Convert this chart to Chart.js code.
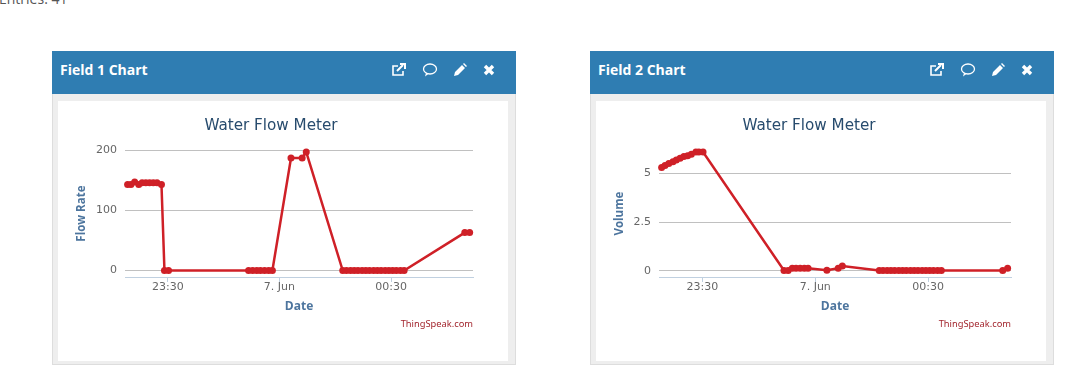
<!DOCTYPE html>
<html>
<head>
<meta charset="utf-8">
<title>Water Flow Meter</title>
<script src="https://cdn.jsdelivr.net/npm/chart.js@4/dist/chart.umd.min.js"></script>
<style>
    html, body { margin: 0; padding: 0; background: #fff; width: 1090px; height: 376px; overflow: hidden; }
    .entries { position: absolute; left: -1px; top: -11px; font: 14px "Open Sans", sans-serif; color: #555; }
    .panel { position: absolute; top: 51px; width: 464px; height: 314px; background: #eee; border: 1px solid #ddd; box-sizing: border-box; }
    #panel-1 { left: 52px; }
    #panel-2 { left: 590px; }
    .panel-header { position: absolute; left: -1px; right: -1px; top: -1px; height: 43px; background: #2f7db2; }
    .panel-title { position: absolute; left: 8px; top: 9px; font: bold 14px "Open Sans", sans-serif; color: #fff; }
    .icon { position: absolute; top: 11px; width: 16px; height: 16px; }
    .panel-body { position: absolute; left: 5px; top: 49px; width: 450px; height: 260px; background: #fff; }
    canvas { position: absolute; left: 0; top: 0; }
    .credits { position: absolute; right: 35px; top: 216px; font: 9.3px "Noto Sans", sans-serif; color: #a3262e; }
</style>
</head>
<body>
<div class="entries">Entries: 41</div>

<div class="panel" id="panel-1">
    <div class="panel-header"><span class="panel-title">Field 1 Chart</span></div>
    <div class="panel-body"><canvas id="field-1-chart" width="450" height="260"></canvas><span class="credits">ThingSpeak.com</span></div>
</div>
<div class="panel" id="panel-2">
    <div class="panel-header"><span class="panel-title">Field 2 Chart</span></div>
    <div class="panel-body"><canvas id="field-2-chart" width="450" height="260"></canvas><span class="credits">ThingSpeak.com</span></div>
</div>

<script>
'use strict';

// minutes before/after midnight on 7 Jun, both fields share the same entries
const entryMinutes = [
    -40.8, -39.9, -38.9, -37.8, -36.9, -35.9, -34.9, -33.9, -32.9, -31.7, -30.9, -29.8,
    -8.3, -7.2, -6.1, -5.1, -4.0, -2.9, -1.9,
    3.1, 6.1, 7.2,
    17.0, 18.0, 19.1, 20.1, 21.1, 22.2, 23.2, 24.2, 25.3, 26.3, 27.3, 28.4, 29.4, 30.4, 31.4, 32.5, 33.5,
    49.8, 51.1
];
const flowRate = [
    143, 143, 147, 143, 146, 146, 146, 146, 146, 143, 0, 0,
    0, 0, 0, 0, 0, 0, 0,
    187, 187, 197,
    0, 0, 0, 0, 0, 0, 0, 0, 0, 0, 0, 0, 0, 0, 0, 0, 0,
    63, 63
];
const volume = [
    5.31, 5.42, 5.52, 5.61, 5.7, 5.79, 5.88, 5.92, 6.0, 6.11, 6.11, 6.11,
    0.02, 0.02, 0.13, 0.13, 0.13, 0.13, 0.13,
    0.03, 0.13, 0.25,
    0.02, 0.02, 0.02, 0.02, 0.02, 0.02, 0.02, 0.02, 0.02, 0.02, 0.02, 0.02, 0.02, 0.02, 0.02, 0.02, 0.02,
    0.02, 0.13
];
const xTickMinutes = [-30, 0, 30];
const xTickLabels = ['23:30', '7. Jun', '00:30'];
const flowTicks = [0, 100, 200];
const volumeTicks = [0, 2.5, 5];

const FONT = '"DejaVu Sans", sans-serif';
const LABEL_FONT = '"Open Sans", sans-serif';
const LINE_COLOR = '#cf2027';

function renderChart(canvasId, values, yTicks, yMin, yMax, yTitle, yAxisWidth) {
    const ctx = document.getElementById(canvasId).getContext('2d');
    return new Chart(ctx, {
        type: 'line',
        data: {
            datasets: [{
                data: values.map((v, i) => ({ x: entryMinutes[i], y: v })),
                borderColor: LINE_COLOR,
                backgroundColor: LINE_COLOR,
                borderWidth: 2.5,
                pointRadius: 3.5,
                pointBorderWidth: 0,
                tension: 0,
                clip: false
            }]
        },
        options: {
            responsive: false,
            animation: false,
            // left padding is small so the chart title sits where the original has it
            layout: { padding: { left: 11, right: 35, top: 0, bottom: 47 } },
            plugins: {
                legend: { display: false },
                tooltip: { enabled: false },
                title: {
                    display: true,
                    text: 'Water Flow Meter',
                    color: '#274b6d',
                    font: { family: FONT, size: 15.2, weight: 'normal' },
                    padding: { top: 16, bottom: 15 }
                }
            },
            scales: {
                x: {
                    type: 'linear',
                    min: -41.5,
                    max: 52,
                    afterBuildTicks: axis => { axis.ticks = xTickMinutes.map(value => ({ value })); },
                    afterFit: axis => { axis.height = 37; },
                    border: { display: true, color: '#c0d0e0', width: 1 },
                    grid: { drawOnChartArea: false, color: '#c0d0e0', tickLength: 5 },
                    ticks: {
                        color: '#666',
                        font: { family: FONT, size: 11 },
                        maxRotation: 0,
                        padding: -1,
                        callback: value => xTickLabels[xTickMinutes.indexOf(value)]
                    },
                    title: {
                        display: true,
                        text: 'Date',
                        color: '#4d759e',
                        font: { family: LABEL_FONT, size: 12, weight: 'bold' },
                        padding: 0
                    }
                },
                y: {
                    min: yMin,
                    max: yMax,
                    afterBuildTicks: axis => { axis.ticks = yTicks.map(value => ({ value })); },
                    afterFit: axis => { axis.width = yAxisWidth; },
                    border: { display: false },
                    grid: { color: '#c0c0c0', drawTicks: false },
                    ticks: {
                        color: '#666',
                        font: { family: FONT, size: 11 },
                        padding: 8,
                        callback: value => String(value)
                    },
                    title: {
                        display: true,
                        text: yTitle,
                        color: '#4d759e',
                        font: { family: LABEL_FONT, size: 11.5, weight: 'bold' },
                        padding: { top: 6, bottom: 0 }
                    }
                }
            }
        }
    });
}

// header icons: external link, comment, pencil, close
const ICONS = [
    { left: 339, svg: '<path d="M12 9v4H2V4h5" fill="none" stroke="#fff" stroke-width="1.6"/><path d="M6 9l6-6M9 2h5v5" fill="none" stroke="#fff" stroke-width="2"/>' },
    { left: 370, svg: '<ellipse cx="8" cy="7" rx="6.5" ry="5" fill="none" stroke="#fff" stroke-width="1.3"/><path d="M4 11l-1 3.5 4-3" fill="#fff"/>' },
    { left: 400, svg: '<path d="M2 14l1-4 7-7 3 3-7 7z M11 2l1-1 3 3-1 1z" fill="#fff"/>' },
    { left: 429, svg: '<path d="M4 4l8 8M12 4l-8 8" stroke="#fff" stroke-width="3.4" fill="none"/>' }
];

function renderIcons() {
    document.querySelectorAll('.panel-header').forEach(header => {
        ICONS.forEach(icon => {
            header.insertAdjacentHTML('beforeend',
                `<svg class="icon" style="left:${icon.left}px" viewBox="0 0 16 16">${icon.svg}</svg>`);
        });
    });
}

renderIcons();
renderChart('field-1-chart', flowRate, flowTicks, -10.8, 200, 'Flow Rate', 56);
renderChart('field-2-chart', volume, volumeTicks, -0.32, 6.2, 'Volume', 52);
</script>
</body>
</html>
